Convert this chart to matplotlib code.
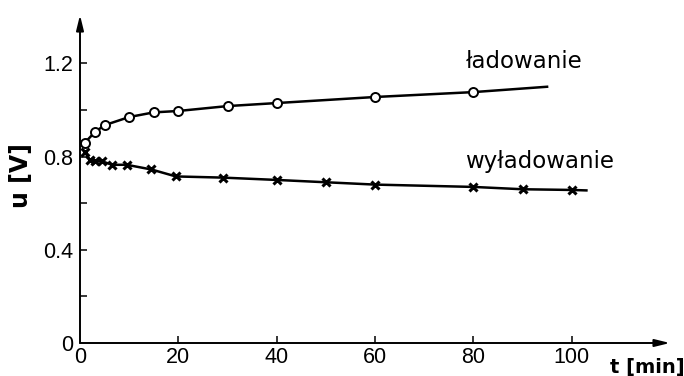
import matplotlib
matplotlib.use('Agg')
import matplotlib.pyplot as plt

# charging curve (ladowanie), time in min, voltage in V
t_lad = [1, 3, 5, 10, 15, 20, 30, 40, 60, 80]
u_lad = [0.86, 0.905, 0.935, 0.97, 0.99, 0.996, 1.017, 1.03, 1.056, 1.077]
lad_end = (95, 1.10)

# discharging curve (wyladowanie)
t_wyl = [1, 2, 3, 4.5, 6.5, 9.5, 14.5, 19.5, 29, 40, 50, 60, 80, 90, 100]
u_wyl = [0.82, 0.785, 0.78, 0.78, 0.765, 0.765, 0.745, 0.715, 0.71, 0.70,
         0.69, 0.68, 0.67, 0.66, 0.657]
wyl_end = (103, 0.655)

xticks = [0, 20, 40, 60, 80, 100]
yticks = [0, 0.2, 0.4, 0.6, 0.8, 1.0, 1.2]
ylabels = ['0', '', '0.4', '', '0.8', '', '1.2']

W, H = 684, 376
fig = plt.figure(figsize=(W / 100, H / 100), dpi=100)
ax = fig.add_axes([80 / W, 33 / H, 590 / W, 328 / H])
ax.set_xlim(0, 120)
ax.set_ylim(0, 1.408)

for s in ax.spines.values():
    s.set_visible(False)

# axes with arrows
arr = dict(arrowstyle='-|>,head_length=0.9,head_width=0.22', color='black',
           lw=1.4, shrinkA=0, shrinkB=0)
ax.annotate('', xy=(1, 0), xytext=(0, 0), xycoords='axes fraction', arrowprops=arr)
ax.annotate('', xy=(0, 1), xytext=(0, 0), xycoords='axes fraction', arrowprops=arr)

ax.plot(t_lad + [lad_end[0]], u_lad + [lad_end[1]], color='black', lw=1.8, zorder=2)
ax.plot(t_lad, u_lad, 'o', ms=6.5, mfc='white', mec='black', mew=1.4, zorder=3)
ax.plot(t_wyl + [wyl_end[0]], u_wyl + [wyl_end[1]], color='black', lw=1.8, zorder=2)
ax.plot(t_wyl, u_wyl, 'x', ms=5.5, mec='black', mew=2.2, zorder=3)

tickfont = ['Liberation Sans', 'DejaVu Sans']
ax.set_xticks(xticks)
ax.set_xticklabels([str(v) for v in xticks], family=tickfont, fontsize=15.5)
ax.set_yticks(yticks)
ax.set_yticklabels(ylabels, family=tickfont, fontsize=15.5)
ax.tick_params(direction='in', length=5, width=1.1, pad=3)
ax.tick_params(axis='y', pad=5)
ax.xaxis.get_major_ticks()[0].tick1line.set_visible(False)
ax.yaxis.get_major_ticks()[0].tick1line.set_visible(False)

ax.text(78.5, 1.18, 'ładowanie', fontsize=16.5, ha='left', va='baseline')
ax.text(78.3, 0.751, 'wyładowanie', fontsize=16.5, ha='left', va='baseline')

fig.text(21 / W, 1 - 176 / H, 'u [V]', rotation=90, ha='center', va='center',
         fontsize=17, fontweight='bold')
fig.text(610 / W, 1 - 368 / H, 't [min]', ha='left', va='center',
         fontsize=14, fontweight='bold')

fig.savefig('out.png', dpi=100)
